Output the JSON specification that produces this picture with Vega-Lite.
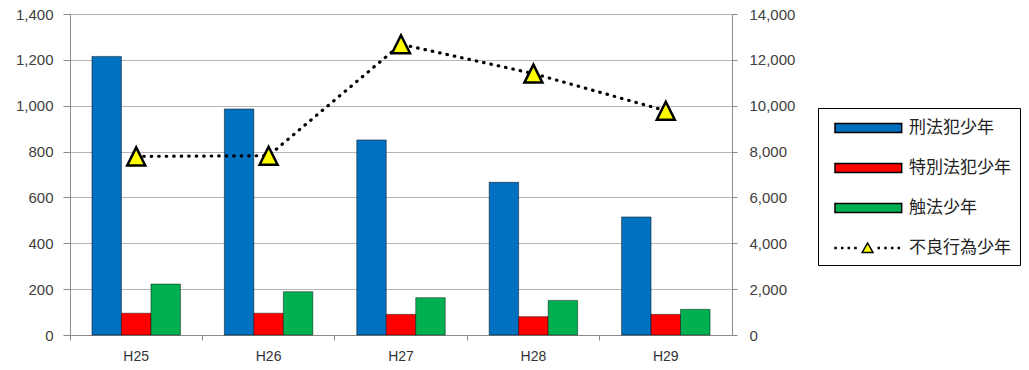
{
  "$schema": "https://vega.github.io/schema/vega-lite/v6.json",
  "autosize": {"type": "none"},
  "padding": {"left": 70, "top": 14, "right": 297, "bottom": 35},
  "width": 662,
  "height": 321,
  "background": "#ffffff",
  "config": {
    "view": {"stroke": null},
    "font": "Liberation Sans",
    "axis": {"labelFont": "Liberation Sans", "labelColor": "#404040", "labelFontSize": 15, "domainColor": "#8a8a8a", "tickColor": "#8a8a8a", "gridColor": "#b5b5b5"}
  },
  "datasets": {
    "d": [
      {"year": "H25", "series": "刑法犯少年", "value": 1215},
      {"year": "H25", "series": "特別法犯少年", "value": 95},
      {"year": "H25", "series": "触法少年", "value": 222},
      {"year": "H25", "series": "不良行為少年", "value": 7790},
      {"year": "H26", "series": "刑法犯少年", "value": 986},
      {"year": "H26", "series": "特別法犯少年", "value": 95},
      {"year": "H26", "series": "触法少年", "value": 189},
      {"year": "H26", "series": "不良行為少年", "value": 7820},
      {"year": "H27", "series": "刑法犯少年", "value": 851},
      {"year": "H27", "series": "特別法犯少年", "value": 90},
      {"year": "H27", "series": "触法少年", "value": 163},
      {"year": "H27", "series": "不良行為少年", "value": 12680},
      {"year": "H28", "series": "刑法犯少年", "value": 666},
      {"year": "H28", "series": "特別法犯少年", "value": 80},
      {"year": "H28", "series": "触法少年", "value": 151},
      {"year": "H28", "series": "不良行為少年", "value": 11400},
      {"year": "H29", "series": "刑法犯少年", "value": 515},
      {"year": "H29", "series": "特別法犯少年", "value": 90},
      {"year": "H29", "series": "触法少年", "value": 112},
      {"year": "H29", "series": "不良行為少年", "value": 9780}
    ]
  },
  "data": {"name": "d"},
  "layer": [
    {
      "transform": [{"filter": "datum.series !== '不良行為少年'"}],
      "mark": {"type": "bar", "stroke": "#000", "strokeOpacity": 0.45, "strokeWidth": 1},
      "encoding": {
        "x": {"field": "year", "type": "nominal", "sort": null,
              "scale": {"paddingInner": 0.3316, "paddingOuter": 0.1658},
              "axis": {"orient": "bottom", "title": null, "ticks": false, "labelAngle": 0, "labelPadding": 14, "labelFontSize": 14, "labelColor": "#333", "grid": false}},
        "xOffset": {"field": "series", "type": "nominal", "sort": ["刑法犯少年", "特別法犯少年", "触法少年"], "scale": {"paddingInner": 0, "paddingOuter": 0}},
        "y": {"field": "value", "type": "quantitative",
              "scale": {"domain": [0, 1400], "nice": false},
              "axis": {"orient": "left", "title": null, "values": [0, 200, 400, 600, 800, 1000, 1200, 1400], "format": ",d", "grid": true, "tickSize": 7, "labelPadding": 10}},
        "color": {"field": "series", "type": "nominal",
                  "scale": {"domain": ["刑法犯少年", "特別法犯少年", "触法少年", "不良行為少年"], "range": ["#0070C0", "#FF0000", "#00B050", "#FFFF00"]},
                  "legend": {"orient": "none", "legendX": 748, "legendY": 94, "title": null, "strokeColor": "#000", "padding": 9,
                             "symbolSize": 400, "labelOffset": 60, "labelFontSize": 17, "labelFont": "Noto Sans CJK JP", "labelColor": "#222",
                             "rowPadding": 21, "symbolOpacity": 1, "labelLimit": 400,
                             "encode": {"symbols": {"update": {"stroke": {"value": "#000"}, "strokeOpacity": {"value": 1},
                    "strokeWidth": {"signal": "datum.value === '不良行為少年' ? 1.8 : 0.5"}}}}}}
      }
    },
    {
      "transform": [{"filter": "datum.series === '不良行為少年'"}],
      "layer": [
        {
          "mark": {"type": "line", "color": "#000", "strokeWidth": 3.2, "strokeDash": [0.5, 7], "strokeCap": "round"},
          "encoding": {
            "x": {"field": "year", "type": "nominal", "sort": null,
                  "axis": {"orient": "bottom", "title": null, "labels": false, "domain": false, "ticks": true, "tickSize": 5, "bandPosition": -0.248, "grid": false}},
            "y": {"field": "value", "type": "quantitative", "scale": {"domain": [0, 14000], "nice": false},
                  "axis": {"orient": "right", "title": null, "values": [0, 2000, 4000, 6000, 8000, 10000, 12000, 14000], "format": ",d", "grid": false, "tickSize": 5, "labelPadding": 12}}
          }
        },
        {
          "mark": {"type": "point", "shape": "M0,-1L1,1L-1,1Z", "size": 324, "filled": true, "fill": "#FFFF00", "stroke": "#000", "strokeWidth": 2.5, "opacity": 1},
          "encoding": {
            "x": {"field": "year", "type": "nominal", "sort": null,
                  "axis": {"orient": "bottom", "title": null, "labels": false, "domain": false, "ticks": true, "tickSize": 5, "bandPosition": -0.248, "grid": false}},
            "y": {"field": "value", "type": "quantitative", "scale": {"domain": [0, 14000], "nice": false},
                  "axis": {"orient": "right", "title": null, "values": [0, 2000, 4000, 6000, 8000, 10000, 12000, 14000], "format": ",d", "grid": false, "tickSize": 5, "labelPadding": 12}}
          }
        },
        {
          "mark": {"type": "point", "filled": true, "opacity": 0},
          "encoding": {
            "x": {"field": "year", "type": "nominal", "sort": null,
                  "axis": {"orient": "bottom", "title": null, "labels": false, "domain": false, "ticks": true, "tickSize": 5, "bandPosition": -0.248, "grid": false}},
            "y": {"field": "value", "type": "quantitative", "scale": {"domain": [0, 14000], "nice": false},
                  "axis": {"orient": "right", "title": null, "values": [0, 2000, 4000, 6000, 8000, 10000, 12000, 14000], "format": ",d", "grid": false, "tickSize": 5, "labelPadding": 12}},
            "color": {"field": "series", "type": "nominal",
                      "scale": {"domain": ["刑法犯少年", "特別法犯少年", "触法少年", "不良行為少年"], "range": ["#0070C0", "#FF0000", "#00B050", "#FFFF00"]}},
            "shape": {"field": "series", "type": "nominal",
                      "scale": {"domain": ["刑法犯少年", "特別法犯少年", "触法少年", "不良行為少年"],
                                "range": ["M-0.3,-0.45H6.37V0.45H-0.3Z", "M-0.3,-0.45H6.37V0.45H-0.3Z", "M-0.3,-0.45H6.37V0.45H-0.3Z",
                                          "M2.96,-0.5L3.5,0.45L2.42,0.45Z M-0.3,-0.05h0.1v0.1h-0.1Z M0.37,-0.05h0.1v0.1h-0.1Z M1.03,-0.05h0.1v0.1h-0.1Z M1.7,-0.05h0.1v0.1h-0.1Z M4.03,-0.05h0.1v0.1h-0.1Z M4.7,-0.05h0.1v0.1h-0.1Z M5.37,-0.05h0.1v0.1h-0.1Z M6.03,-0.05h0.1v0.1h-0.1Z"]}}
          }
        }
      ]
    }
  ],
  "resolve": {"scale": {"y": "independent"}, "axis": {"x": "independent"}}
}
